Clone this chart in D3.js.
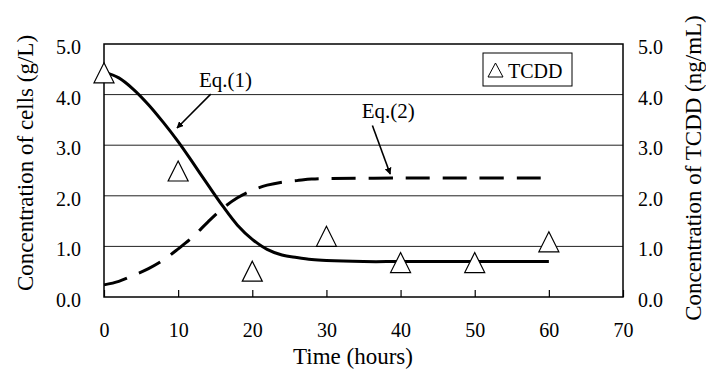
<!DOCTYPE html>
<html lang="en">
<head>
    <meta charset="UTF-8">
    <title>Cells and TCDD</title>
    <script src="https://d3js.org/d3.v7.min.js"></script>
    <style>
        html, body {
            margin: 0;
            background: white;
        }
        svg text {
            font-family: "Liberation Serif", "Times New Roman", serif;
            fill: black;
        }
    </style>
</head>
<body>
    <div id="chart"></div>
    <script>
        // Eq.(1): model curve for cell concentration (g/L)
        var eq1Time = [0, 2, 4, 6, 8, 10, 12, 14, 16, 18, 20, 22, 24, 26, 28, 30, 35, 40, 50, 60];
        var eq1Cells = [4.45, 4.33, 4.1, 3.8, 3.45, 3.07, 2.65, 2.22, 1.8, 1.42, 1.14, 0.94, 0.83, 0.78, 0.74, 0.72, 0.70, 0.70, 0.70, 0.70];

        // Eq.(2): model curve
        var eq2Time = [0, 2, 4, 6, 8, 10, 12, 14, 16, 18, 20, 22, 24, 26, 28, 30, 40, 50, 60];
        var eq2Values = [0.24, 0.31, 0.43, 0.56, 0.73, 0.95, 1.19, 1.48, 1.75, 1.96, 2.11, 2.21, 2.27, 2.30, 2.33, 2.34, 2.35, 2.35, 2.35];

        // measured TCDD (ng/mL), right axis
        var tcddTime = [0, 10, 20, 30, 40, 50, 60];
        var tcddValues = [4.43, 2.49, 0.51, 1.2, 0.68, 0.68, 1.09];

        var xTicks = [0, 10, 20, 30, 40, 50, 60, 70];
        var yTicks = [0, 1, 2, 3, 4, 5];

        var width = 706;
        var height = 369;
        var plot = {left: 104, right: 623, top: 44, bottom: 297};

        var svg = d3.select('#chart')
            .append('svg')
            .attr('width', width)
            .attr('height', height);

        var x = d3.scaleLinear().domain([0, 70]).range([plot.left, plot.right]);
        var y = d3.scaleLinear().domain([0, 5]).range([plot.bottom, plot.top]);
        var y2 = d3.scaleLinear().domain([0, 5]).range([plot.bottom, plot.top]);

        // gridlines
        svg.append('g')
            .selectAll('line')
            .data(yTicks.slice(1, -1))
            .enter().append('line')
            .attr('x1', plot.left).attr('x2', plot.right)
            .attr('y1', function(d){ return y(d); })
            .attr('y2', function(d){ return y(d); })
            .attr('stroke', '#222')
            .attr('stroke-width', 1);

        // left tick labels
        svg.append('g')
            .selectAll('text')
            .data(yTicks)
            .enter().append('text')
            .attr('x', 81)
            .attr('y', function(d){ return y(d) + 10; })
            .attr('text-anchor', 'end')
            .attr('font-size', 20)
            .text(function(d){ return d3.format('.1f')(d); });

        // right tick labels
        svg.append('g')
            .selectAll('text')
            .data(yTicks)
            .enter().append('text')
            .attr('x', 638)
            .attr('y', function(d){ return y2(d) + 10; })
            .attr('text-anchor', 'start')
            .attr('font-size', 20)
            .text(function(d){ return d3.format('.1f')(d); });

        // x axis ticks (inside) and labels
        var xAxis = d3.axisBottom(x)
            .tickValues(xTicks)
            .tickSize(-7)
            .tickFormat(d3.format('d'));

        var gx = svg.append('g')
            .attr('transform', 'translate(0,' + plot.bottom + ')')
            .call(xAxis);
        gx.select('.domain').remove();
        gx.selectAll('line').attr('stroke', 'black').attr('stroke-width', 1.2);
        gx.selectAll('text')
            .attr('y', 40)
            .attr('dy', 0)
            .attr('font-size', 20)
            .attr('font-family', '"Liberation Serif", serif')
            .attr('fill', 'black');

        // model lines
        var line = d3.line()
            .x(function(d){ return x(d[0]); })
            .y(function(d){ return y(d[1]); })
            .curve(d3.curveCatmullRom);

        svg.append('path')
            .datum(d3.zip(eq1Time, eq1Cells))
            .attr('d', line)
            .attr('fill', 'none')
            .attr('stroke', 'black')
            .attr('stroke-width', 3);

        svg.append('path')
            .datum(d3.zip(eq2Time, eq2Values))
            .attr('d', line)
            .attr('fill', 'none')
            .attr('stroke', 'black')
            .attr('stroke-width', 3)
            .attr('stroke-dasharray', '24,13');

        // plot frame
        svg.append('rect')
            .attr('x', plot.left)
            .attr('y', plot.top)
            .attr('width', plot.right - plot.left)
            .attr('height', plot.bottom - plot.top)
            .attr('fill', 'none')
            .attr('stroke', 'black')
            .attr('stroke-width', 1.5);

        // TCDD markers
        var tri = 'M0,-10L10,10L-10,10Z';
        svg.append('g')
            .selectAll('path')
            .data(d3.zip(tcddTime, tcddValues))
            .enter().append('path')
            .attr('d', tri)
            .attr('transform', function(d){ return 'translate(' + x(d[0]) + ',' + y2(d[1]) + ')'; })
            .attr('fill', 'white')
            .attr('stroke', 'black')
            .attr('stroke-width', 1.2);

        // legend
        var legend = svg.append('g').attr('transform', 'translate(483,53)');
        legend.append('rect')
            .attr('width', 89)
            .attr('height', 33)
            .attr('fill', 'white')
            .attr('stroke', 'black')
            .attr('stroke-width', 1);
        legend.append('path')
            .attr('d', 'M0,-7L7.5,7L-7.5,7Z')
            .attr('transform', 'translate(12.5,17)')
            .attr('fill', 'white')
            .attr('stroke', 'black')
            .attr('stroke-width', 1);
        legend.append('text')
            .attr('x', 25)
            .attr('y', 25)
            .attr('font-size', 20)
            .text('TCDD');

        // annotations
        svg.append('defs').append('marker')
            .attr('id', 'arrow')
            .attr('viewBox', '0 0 10 10')
            .attr('refX', 9).attr('refY', 5)
            .attr('markerWidth', 7).attr('markerHeight', 7)
            .attr('markerUnits', 'userSpaceOnUse')
            .attr('orient', 'auto')
            .append('path')
            .attr('d', 'M0,0L10,5L0,10Z')
            .attr('fill', 'black');

        function annotate(label, tx, ty, x1, y1, x2, y2v) {
            svg.append('text')
                .attr('x', x(tx))
                .attr('y', y(ty))
                .attr('font-size', 21)
                .text(label);
            svg.append('line')
                .attr('x1', x(x1)).attr('y1', y(y1))
                .attr('x2', x(x2)).attr('y2', y(y2v))
                .attr('stroke', 'black')
                .attr('stroke-width', 1.6)
                .attr('marker-end', 'url(#arrow)');
        }
        annotate('Eq.(1)', 12.8, 4.15, 14.4, 4.01, 9.85, 3.34);
        annotate('Eq.(2)', 34.75, 3.54, 36.2, 3.39, 38.6, 2.43);

        // axis titles
        svg.append('text')
            .attr('transform', 'translate(33,163)rotate(-90)')
            .attr('text-anchor', 'middle')
            .attr('font-size', 23)
            .text('Concentration of cells (g/L)');

        svg.append('text')
            .attr('transform', 'translate(701,168)rotate(-90)')
            .attr('text-anchor', 'middle')
            .attr('font-size', 23)
            .text('Concentration of TCDD (ng/mL)');

        svg.append('text')
            .attr('x', 353)
            .attr('y', 364)
            .attr('text-anchor', 'middle')
            .attr('font-size', 23)
            .text('Time (hours)');
    </script>
</body>
</html>
